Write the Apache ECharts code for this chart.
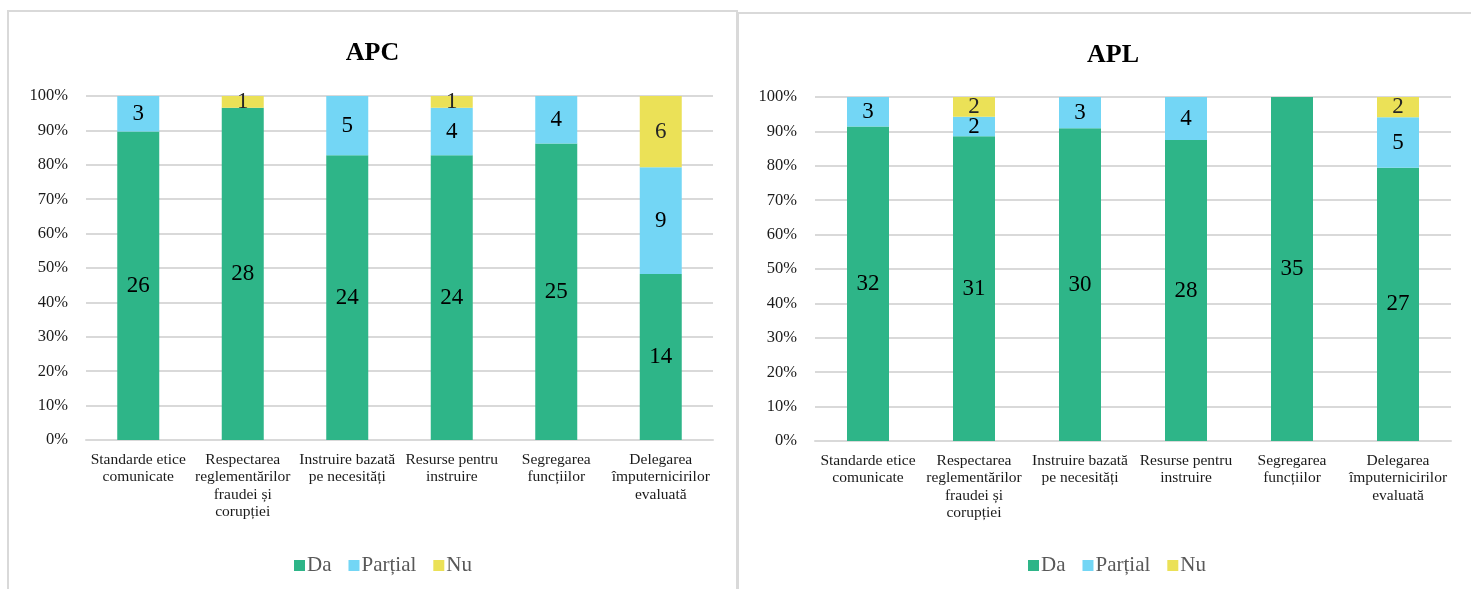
<!DOCTYPE html>
<html>
<head>
<meta charset="utf-8">
<script src="https://cdn.jsdelivr.net/npm/echarts@6/dist/echarts.min.js"></script>
<style>
html,body{margin:0;padding:0;background:#fff;width:1471px;height:589px;overflow:hidden;position:relative;}
.box{position:absolute;border:2px solid #d9d9d9;box-sizing:border-box;background:#fff;}
#c1{left:7px;top:10px;width:731px;height:600px;}
#c2{left:737px;top:12px;width:752px;height:600px;}
</style>
</head>
<body>
<div id="c1" class="box"></div>
<div id="c2" class="box"></div>
<script>
const categories = [
  "Standarde etice\ncomunicate",
  "Respectarea\nreglementărilor\nfraudei și\ncorupției",
  "Instruire bazată\npe necesități",
  "Resurse pentru\ninstruire",
  "Segregarea\nfuncțiilor",
  "Delegarea\nîmputernicirilor\nevaluată"
];
const seriesNames = ["Da", "Parțial", "Nu"];
const colors = ["#2eb588", "#73d6f5", "#ebe157"];
const yTicks = [0, 10, 20, 30, 40, 50, 60, 70, 80, 90, 100];

// APC counts
const apcDa      = [26, 28, 24, 24, 25, 14];
const apcPartial = [3, 0, 5, 4, 4, 9];
const apcNu      = [0, 1, 0, 1, 0, 6];
// APL counts
const aplDa      = [32, 31, 30, 28, 35, 27];
const aplPartial = [3, 2, 3, 4, 0, 5];
const aplNu      = [0, 2, 0, 0, 0, 2];

const FONT = "'Liberation Serif','Times New Roman',serif";

function build(title, groups, gridLeft, gridWidth, gridTop, titleTop, legendLeft, legendTop) {
  const totals = categories.map((_, i) => groups.reduce((s, g) => s + g[i], 0));
  const series = groups.map((g, k) => ({
    name: seriesNames[k],
    type: 'bar',
    stack: 'total',
    barWidth: 42,
    itemStyle: { color: colors[k] },
    label: {
      show: true,
      position: 'inside',
      fontFamily: FONT,
      fontSize: 23,
      color: k === 2 ? '#262626' : '#000',
      formatter: p => (p.data.count > 0 ? String(p.data.count) : '')
    },
    data: g.map((v, i) => ({ value: v / totals[i] * 100, count: v }))
  }));
  return {
    animation: false,
    textStyle: { fontFamily: FONT },
    title: {
      text: title, left: 'center', top: titleTop,
      textStyle: { fontFamily: FONT, fontSize: 26, fontWeight: 'bold', color: '#000' }
    },
    legend: {
      data: seriesNames, left: legendLeft, top: legendTop,
      icon: 'rect', itemWidth: 11, itemHeight: 11, itemGap: 17,
      textStyle: { fontFamily: FONT, fontSize: 21, color: '#595959', padding: [0,0,0,-3] }
    },
    grid: { left: gridLeft, width: gridWidth, top: gridTop, height: 344 },
    xAxis: {
      type: 'category', data: categories,
      axisLine: { lineStyle: { color: '#d9d9d9', width: 2 } },
      axisTick: { show: false },
      axisLabel: {
        interval: 0, fontFamily: FONT, fontSize: 15.5, color: '#1a1a1a',
        lineHeight: 17.5, margin: 11
      }
    },
    yAxis: {
      type: 'value', min: yTicks[0], max: yTicks[yTicks.length - 1], interval: 10,
      axisLine: { show: false }, axisTick: { show: false },
      splitLine: { lineStyle: { color: '#d9d9d9', width: 2 } },
      axisLabel: { fontFamily: FONT, fontSize: 16.5, color: '#1a1a1a', margin: 18,
        formatter: v => v + '%' }
    },
    series: series
  };
}

const ch1 = echarts.init(document.getElementById('c1'), null, { renderer: 'canvas' });
ch1.setOption(build('APC', [apcDa, apcPartial, apcNu], 77, 627, 84, 23, 280, 538));
const ch2 = echarts.init(document.getElementById('c2'), null, { renderer: 'canvas' });
ch2.setOption(build('APL', [aplDa, aplPartial, aplNu], 76, 636, 83, 23, 284, 536));
</script>
</body>
</html>
